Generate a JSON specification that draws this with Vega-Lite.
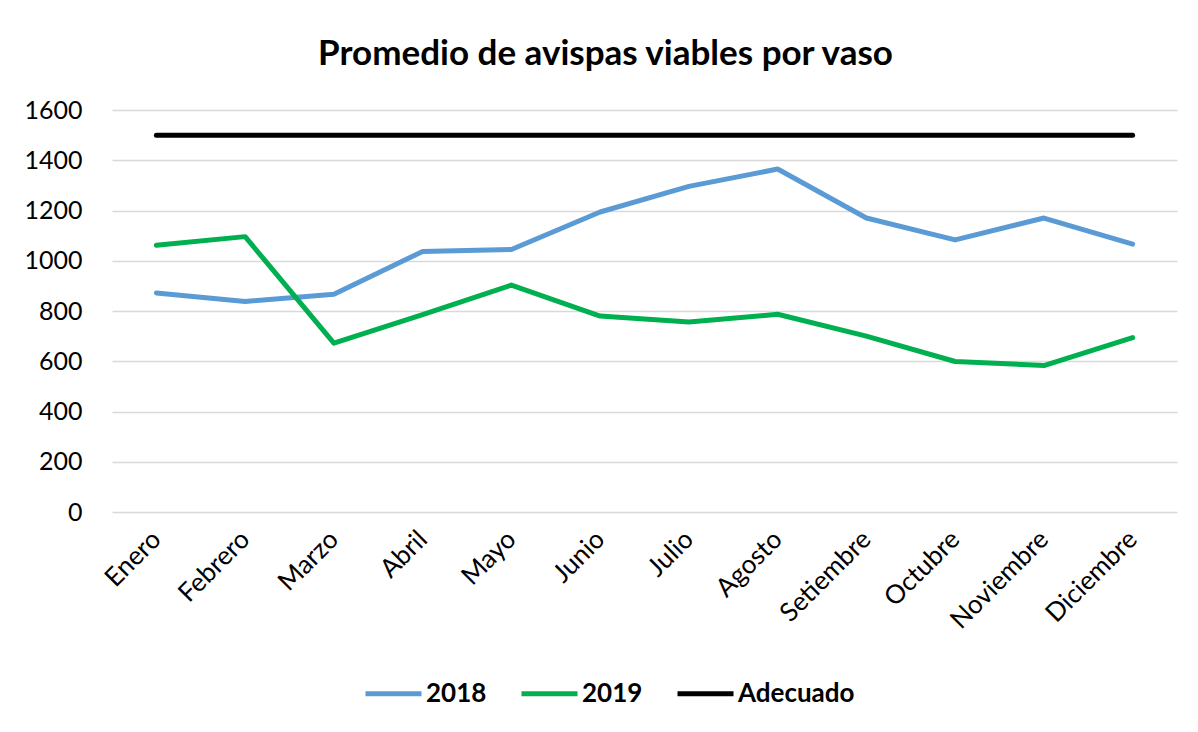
{
  "$schema": "https://vega.github.io/schema/vega-lite/v6.json",
  "width": 1065,
  "height": 402,
  "autosize": {"type": "none"},
  "padding": {"left": 112, "top": 110, "right": 21, "bottom": 220},
  "background": "white",
  "title": {
    "text": "Promedio de avispas viables por vaso",
    "font": "Lato",
    "fontSize": 35,
    "fontWeight": "bold",
    "color": "#000000",
    "anchor": "middle",
    "baseline": "alphabetic",
    "dx": -39,
    "dy": 2,
    "offset": 0
  },
  "config": {
    "view": {"stroke": null},
    "axis": {"labelFont": "Lato", "labelFontSize": 25, "labelColor": "#000000"}
  },
  "data": {
    "values": [
      {"mes": "Enero", "serie": "2018", "valor": 872},
      {"mes": "Febrero", "serie": "2018", "valor": 838},
      {"mes": "Marzo", "serie": "2018", "valor": 867},
      {"mes": "Abril", "serie": "2018", "valor": 1037},
      {"mes": "Mayo", "serie": "2018", "valor": 1045},
      {"mes": "Junio", "serie": "2018", "valor": 1194},
      {"mes": "Julio", "serie": "2018", "valor": 1296},
      {"mes": "Agosto", "serie": "2018", "valor": 1365},
      {"mes": "Setiembre", "serie": "2018", "valor": 1170},
      {"mes": "Octubre", "serie": "2018", "valor": 1083},
      {"mes": "Noviembre", "serie": "2018", "valor": 1170},
      {"mes": "Diciembre", "serie": "2018", "valor": 1066},
      {"mes": "Enero", "serie": "2019", "valor": 1062},
      {"mes": "Febrero", "serie": "2019", "valor": 1096},
      {"mes": "Marzo", "serie": "2019", "valor": 672},
      {"mes": "Abril", "serie": "2019", "valor": 786},
      {"mes": "Mayo", "serie": "2019", "valor": 903},
      {"mes": "Junio", "serie": "2019", "valor": 780},
      {"mes": "Julio", "serie": "2019", "valor": 756},
      {"mes": "Agosto", "serie": "2019", "valor": 787},
      {"mes": "Setiembre", "serie": "2019", "valor": 700},
      {"mes": "Octubre", "serie": "2019", "valor": 599},
      {"mes": "Noviembre", "serie": "2019", "valor": 583},
      {"mes": "Diciembre", "serie": "2019", "valor": 694},
      {"mes": "Enero", "serie": "Adecuado", "valor": 1500},
      {"mes": "Febrero", "serie": "Adecuado", "valor": 1500},
      {"mes": "Marzo", "serie": "Adecuado", "valor": 1500},
      {"mes": "Abril", "serie": "Adecuado", "valor": 1500},
      {"mes": "Mayo", "serie": "Adecuado", "valor": 1500},
      {"mes": "Junio", "serie": "Adecuado", "valor": 1500},
      {"mes": "Julio", "serie": "Adecuado", "valor": 1500},
      {"mes": "Agosto", "serie": "Adecuado", "valor": 1500},
      {"mes": "Setiembre", "serie": "Adecuado", "valor": 1500},
      {"mes": "Octubre", "serie": "Adecuado", "valor": 1500},
      {"mes": "Noviembre", "serie": "Adecuado", "valor": 1500},
      {"mes": "Diciembre", "serie": "Adecuado", "valor": 1500}
    ]
  },
  "mark": {"type": "line", "strokeWidth": 5, "strokeCap": "round", "strokeJoin": "round"},
  "encoding": {
    "x": {
      "field": "mes",
      "type": "nominal",
      "sort": ["Enero", "Febrero", "Marzo", "Abril", "Mayo", "Junio", "Julio", "Agosto", "Setiembre", "Octubre", "Noviembre", "Diciembre"],
      "scale": {"type": "point", "padding": 0.5},
      "axis": {
        "title": null,
        "labelAngle": -45,
        "labelAlign": "right",
        "labelBaseline": "middle",
        "labelFontSize": 26,
        "ticks": false,
        "domain": false,
        "labelPadding": 23,
        "grid": false
      }
    },
    "y": {
      "field": "valor",
      "type": "quantitative",
      "scale": {"domain": [0, 1600], "nice": false},
      "axis": {
        "title": null,
        "format": "d",
        "values": [0, 200, 400, 600, 800, 1000, 1200, 1400, 1600],
        "ticks": false,
        "domain": false,
        "labelPadding": 30,
        "gridColor": "#D9D9D9",
        "gridWidth": 1.5
      }
    },
    "color": {
      "field": "serie",
      "type": "nominal",
      "scale": {"domain": ["2018", "2019", "Adecuado"], "range": ["#5B9BD5", "#00B050", "#000000"]},
      "legend": {
        "title": null,
        "orient": "none",
        "direction": "horizontal",
        "legendX": 251,
        "legendY": 553,
        "symbolType": "stroke",
        "symbolStrokeWidth": 5,
        "symbolSize": 3136,
        "labelFont": "Lato",
        "labelFontSize": 26,
        "labelFontWeight": "bold",
        "labelColor": "#000000",
        "labelOffset": 2,
        "columnPadding": 24,
        "padding": 0
      }
    }
  }
}
